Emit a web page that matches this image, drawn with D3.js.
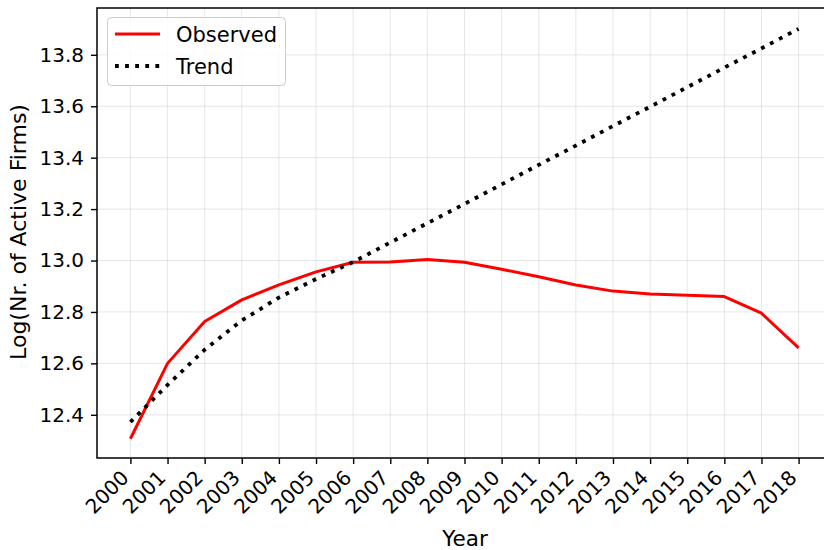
<!DOCTYPE html>
<html><head><meta charset="utf-8">
<script src="https://cdn.jsdelivr.net/npm/d3@7"></script>
<style>body{margin:0;background:#fff}svg{display:block}text{font-family:"DejaVu Sans",sans-serif;fill:#000}</style>
</head><body>
<svg id="c" width="824" height="550"></svg>
<script>
const years = [2000,2001,2002,2003,2004,2005,2006,2007,2008,2009,2010,2011,2012,2013,2014,2015,2016,2017,2018];
const observed = [12.307,12.600,12.763,12.847,12.905,12.956,12.993,12.994,13.004,12.993,12.966,12.937,12.905,12.881,12.870,12.865,12.860,12.795,12.660];
const trend = [12.372,12.516,12.653,12.767,12.856,12.928,12.994,13.070,13.145,13.220,13.296,13.372,13.447,13.523,13.598,13.674,13.750,13.825,13.901];
const yTicks = [12.4,12.6,12.8,13.0,13.2,13.4,13.6,13.8];
const seriesNames = ["Observed","Trend"];

const svg = d3.select("#c");
const L = 97, R = 832, T = 8, B = 458;
const x = d3.scaleLinear().domain([1999.1, 2018.9]).range([L, R]);
const y = d3.scaleLinear().domain([12.232, 13.982]).range([B, T]);

const g = svg.append("g");
// grid
g.selectAll(".vg").data(years).enter().append("line")
  .attr("x1", d=>x(d)).attr("x2", d=>x(d)).attr("y1", T).attr("y2", B)
  .attr("stroke", "#b0b0b0").attr("stroke-opacity", 0.3).attr("stroke-width", 1);
g.selectAll(".hg").data(yTicks).enter().append("line")
  .attr("x1", L).attr("x2", R).attr("y1", d=>y(d)).attr("y2", d=>y(d))
  .attr("stroke", "#b0b0b0").attr("stroke-opacity", 0.3).attr("stroke-width", 1);

const line = d3.line().x((d,i)=>x(years[i])).y(d=>y(d));
g.append("path").datum(observed).attr("d", line).attr("fill","none")
  .attr("stroke","#ff0000").attr("stroke-width",3).attr("stroke-linejoin","round");
g.append("path").datum(trend).attr("d", line).attr("fill","none")
  .attr("stroke","#000").attr("stroke-width",3.8).attr("stroke-dasharray","3.8,6.3");

// axes
const xAxis = d3.axisBottom(x).tickValues(years).tickFormat(d3.format("d")).tickSize(6).tickPadding(4);
const xa = svg.append("g").attr("transform", `translate(0,${B})`).call(xAxis);
xa.select(".domain").remove();
xa.selectAll(".tick line").attr("stroke","#000").attr("stroke-width",1.4);
xa.selectAll(".tick text").style("font-size","20px").attr("text-anchor","end")
  .attr("dy", 0).attr("y", 0)
  .attr("transform","translate(-1,21) rotate(-45)");

const yAxis = d3.axisLeft(y).tickValues(yTicks).tickFormat(d3.format(".1f")).tickSize(6).tickPadding(7);
const ya = svg.append("g").attr("transform", `translate(${L},0)`).call(yAxis);
ya.select(".domain").remove();
ya.selectAll(".tick line").attr("stroke","#000").attr("stroke-width",1.4);
ya.selectAll(".tick text").style("font-size","20px");

// spines
svg.append("rect").attr("x",L).attr("y",T).attr("width",R-L).attr("height",B-T)
  .attr("fill","none").attr("stroke","#000").attr("stroke-width",1.5);

// labels
svg.append("text").attr("x", 465).attr("y", 546).attr("text-anchor","middle")
  .style("font-size","21.5px").text("Year");
svg.append("text").attr("transform","translate(26,232) rotate(-90)").attr("text-anchor","middle")
  .style("font-size","22px").text("Log(Nr. of Active Firms)");

// legend
const lg = svg.append("g");
lg.append("rect").attr("x",107.5).attr("y",17.5).attr("width",178).attr("height",68).attr("rx",4)
  .attr("fill","#fff").attr("fill-opacity",0.8).attr("stroke","#cccccc").attr("stroke-width",1);
lg.append("line").attr("x1",115).attr("x2",160).attr("y1",34).attr("y2",34)
  .attr("stroke","#ff0000").attr("stroke-width",3);
lg.append("line").attr("x1",115).attr("x2",160).attr("y1",66).attr("y2",66)
  .attr("stroke","#000").attr("stroke-width",3.8).attr("stroke-dasharray","3.8,6.3");
lg.append("text").attr("x",176).attr("y",42).style("font-size","21px").text(seriesNames[0]);
lg.append("text").attr("x",176).attr("y",74).style("font-size","21px").text(seriesNames[1]);
</script>
</body></html>
